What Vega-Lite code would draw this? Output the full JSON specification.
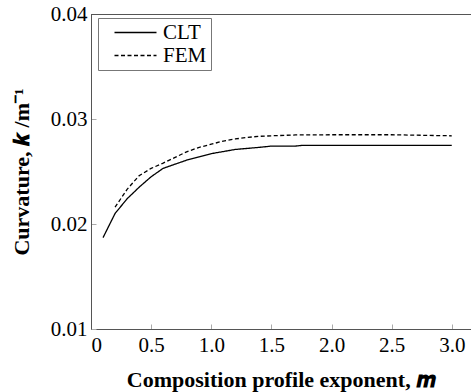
{
  "$schema": "https://vega.github.io/schema/vega-lite/v6.json",
  "width": 380,
  "height": 315,
  "autosize": {"type": "none"},
  "padding": {"left": 91, "top": 14, "right": 0, "bottom": 63},
  "background": "white",
  "config": {
    "view": {"stroke": null},
    "font": "Liberation Serif",
    "axis": {
      "domainColor": "#555555",
      "domainWidth": 1,
      "tickColor": "#aaaaaa",
      "tickWidth": 1,
      "tickSize": -5,
      "grid": false,
      "labelFont": "Liberation Serif",
      "labelFontSize": 21,
      "labelColor": "#000000",
      "titleFont": "Liberation Serif",
      "titleFontSize": 22,
      "titleFontWeight": "bold",
      "titleColor": "#000000"
    }
  },
  "data": {
    "values": [
      {"m": 0.1, "k": 0.0187, "s": "CLT"},
      {"m": 0.2, "k": 0.0210, "s": "CLT"},
      {"m": 0.3, "k": 0.0224, "s": "CLT"},
      {"m": 0.4, "k": 0.0235, "s": "CLT"},
      {"m": 0.5, "k": 0.0245, "s": "CLT"},
      {"m": 0.6, "k": 0.0253, "s": "CLT"},
      {"m": 0.7, "k": 0.0257, "s": "CLT"},
      {"m": 0.8, "k": 0.0261, "s": "CLT"},
      {"m": 0.9, "k": 0.0264, "s": "CLT"},
      {"m": 1.0, "k": 0.0267, "s": "CLT"},
      {"m": 1.1, "k": 0.0269, "s": "CLT"},
      {"m": 1.2, "k": 0.0271, "s": "CLT"},
      {"m": 1.3, "k": 0.0272, "s": "CLT"},
      {"m": 1.4, "k": 0.0273, "s": "CLT"},
      {"m": 1.5, "k": 0.02742, "s": "CLT"},
      {"m": 1.7, "k": 0.02742, "s": "CLT"},
      {"m": 1.75, "k": 0.02748, "s": "CLT"},
      {"m": 2.0, "k": 0.02748, "s": "CLT"},
      {"m": 2.5, "k": 0.02748, "s": "CLT"},
      {"m": 3.0, "k": 0.02748, "s": "CLT"},
      {"m": 0.2, "k": 0.0216, "s": "FEM"},
      {"m": 0.3, "k": 0.0233, "s": "FEM"},
      {"m": 0.4, "k": 0.0246, "s": "FEM"},
      {"m": 0.5, "k": 0.0253, "s": "FEM"},
      {"m": 0.6, "k": 0.0258, "s": "FEM"},
      {"m": 0.7, "k": 0.02635, "s": "FEM"},
      {"m": 0.8, "k": 0.0269, "s": "FEM"},
      {"m": 0.9, "k": 0.0273, "s": "FEM"},
      {"m": 1.0, "k": 0.0276, "s": "FEM"},
      {"m": 1.1, "k": 0.0279, "s": "FEM"},
      {"m": 1.2, "k": 0.0281, "s": "FEM"},
      {"m": 1.3, "k": 0.02825, "s": "FEM"},
      {"m": 1.4, "k": 0.02835, "s": "FEM"},
      {"m": 1.5, "k": 0.0284, "s": "FEM"},
      {"m": 1.7, "k": 0.02848, "s": "FEM"},
      {"m": 2.0, "k": 0.0285, "s": "FEM"},
      {"m": 2.5, "k": 0.0285, "s": "FEM"},
      {"m": 3.0, "k": 0.0284, "s": "FEM"}
    ]
  },
  "layer": [
    {
      "mark": {"type": "rule", "color": "#555555", "strokeWidth": 1, "yOffset": 0.5},
      "encoding": {"y": {"datum": 0.04}}
    },
    {
      "mark": {"type": "line", "color": "#000000", "strokeWidth": 1.3},
      "encoding": {
        "x": {
          "field": "m", "type": "quantitative",
          "scale": {"domain": [0, 3.16], "nice": false, "zero": false},
          "axis": {
            "values": [0, 0.5, 1.0, 1.5, 2.0, 2.5, 3.0],
            "labelExpr": "datum.value == 0 ? '0' : format(datum.value, '.1f')",
            "labelPadding": 10,
            "title": "Composition profile exponent, 𝒎",
            "titlePadding": 14
          }
        },
        "y": {
          "field": "k", "type": "quantitative",
          "scale": {"domain": [0.01, 0.04], "nice": false, "zero": false},
          "axis": {
            "values": [0.01, 0.02, 0.03, 0.04],
            "format": ".2f",
            "labelPadding": 9,
            "title": "Curvature, 𝒌 /m⁻¹",
            "titlePadding": 17
          }
        },
        "strokeDash": {
          "field": "s", "type": "nominal",
          "scale": {"domain": ["CLT", "FEM"], "range": [[1, 0], [4, 2.5]]},
          "legend": {
            "title": null,
            "orient": "none",
            "legendX": 7,
            "legendY": 4,
            "symbolType": "M-3,0H3",
            "symbolSize": 196,
            "symbolOffset": 23,
            "symbolStrokeWidth": 1.3,
            "symbolStrokeColor": "#000000",
            "labelFont": "Liberation Serif",
            "labelFontSize": 21,
            "labelColor": "#000000",
            "labelOffset": 17,
            "strokeColor": "#777777",
            "padding": 4,
            "rowPadding": 1
          }
        }
      }
    }
  ]
}
